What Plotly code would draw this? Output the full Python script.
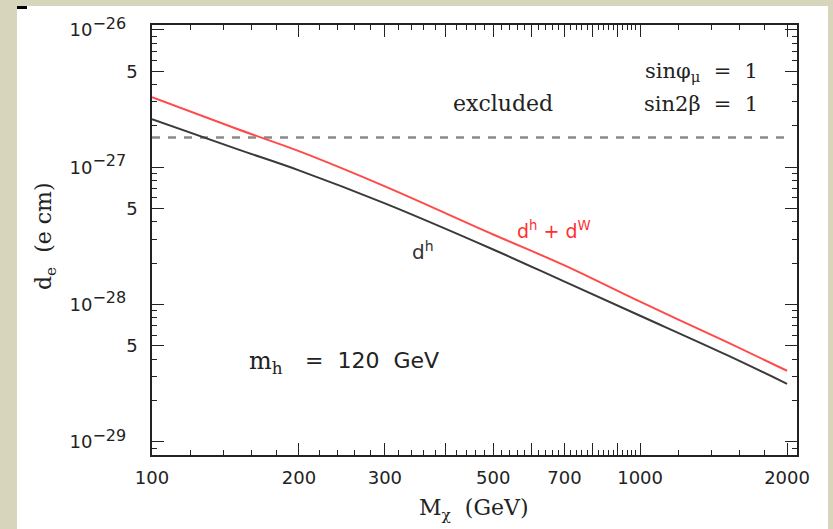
import plotly.graph_objects as go

# ---- data ----
M_chi = [100, 150, 200, 300, 500, 700, 1000, 1500, 2000]          # GeV
d_h = [2.24e-27, 1.35e-27, 9.5e-28, 5.46e-28, 2.52e-28, 1.47e-28, 8.3e-29, 4.32e-29, 2.65e-29]
d_hW = [3.24e-27, 1.89e-27, 1.31e-27, 7.26e-28, 3.24e-28, 1.93e-28, 1.05e-28, 5.37e-29, 3.30e-29]
limit_x = [100, 2000]
limit_y = [1.65e-27, 1.65e-27]

x_tickvals = [100, 200, 300, 400, 500, 600, 700, 800, 900, 1000, 2000]
x_ticktext = ["100", "200", "300", "", "500", "", "700", "", "", "1000", "2000"]
x_minor = [v for v in range(120, 1000, 20) if v % 100 != 0] + [1200, 1400, 1600, 1800]

y_tickvals = [1e-29, 5e-29, 1e-28, 5e-28, 1e-27, 5e-27, 1e-26]
sup = lambda e: "10<sup><span style='font-size:16px'>−%d</span></sup>\u00a0\u00a0" % e
y_ticktext = [sup(29), "5", sup(28), "5", sup(27), "5", sup(26)]
y_minor = [m * 10.0 ** e for e in (-30, -29, -28, -27) for m in (2, 3, 4, 6, 7, 8, 9)]

BEIGE = "#d7d5bb"
SERIF = "DejaVu Serif"
SANS = "DejaVu Sans"

fig = go.Figure()
fig.add_trace(go.Scatter(x=limit_x, y=limit_y, mode="lines",
                         line=dict(color="#8a8a8a", width=2.5, dash="8px,8px"),
                         showlegend=False, hoverinfo="skip"))
fig.add_trace(go.Scatter(x=M_chi, y=d_h, mode="lines",
                         line=dict(color="#3a3a3a", width=2, shape="spline", smoothing=1),
                         showlegend=False))
fig.add_trace(go.Scatter(x=M_chi, y=d_hW, mode="lines",
                         line=dict(color="#ff4a4a", width=2, shape="spline", smoothing=1),
                         showlegend=False))

L, R, T, B = 152, 797, 25, 455
W, H = 833, 529
def px(x):
    return (x - L) / (R - L)
def py(y):
    return (B - y) / (B - T)

def ann(text, x, y, xa="left", ya="middle", size=22, family=SERIF, color="#222", angle=0):
    fig.add_annotation(text=text, x=px(x), y=py(y), xref="paper", yref="paper",
                       xanchor=xa, yanchor=ya, showarrow=False, textangle=angle,
                       font=dict(family=family, size=size, color=color))

ann("sinφ<sub>μ</sub>  =  1", 760, 72, xa="right", size=21)
ann("excluded", 503, 103, xa="center")
ann("sin2β  =  1", 760, 104, xa="right", size=21)
ann("d<sup>h</sup> + d<sup>W</sup>", 515, 230, size=19, family=SANS, color="#ff3030")
ann("d<sup>h</sup>", 410, 251, size=20, family=SANS, color="#333")
ann("m<sub>h</sub>", 247, 362, size=24)
ann("=  120  GeV", 303, 360, size=22, family=SANS)
ann("M<sub>χ</sub>  (GeV)", 474, 509, xa="center", size=22)
ann("d<sub>e</sub>  (e cm)", 45, 236, xa="center", size=22, angle=-90)

# white panel and small dark mark
fig.add_shape(type="rect", xref="paper", yref="paper", layer="below",
              x0=px(17), x1=px(828), y0=py(540), y1=py(6),
              fillcolor="white", line=dict(width=0))
fig.add_shape(type="rect", xref="paper", yref="paper",
              x0=px(17), x1=px(27), y0=py(9), y1=py(6),
              fillcolor="black", line=dict(width=0))

axis_common = dict(showline=True, linecolor="#222", linewidth=1.5, mirror="ticks",
                   ticks="inside", tickcolor="#222", tickwidth=1.2, ticklen=12,
                   showgrid=False, zeroline=False,
                   tickfont=dict(family=SANS, size=18, color="#222"))

fig.update_xaxes(type="log", range=[2, 3.3214], tickmode="array",
                 tickvals=x_tickvals, ticktext=x_ticktext, ticklabelstandoff=6,
                 minor=dict(tickmode="array", tickvals=x_minor, ticks="inside",
                            ticklen=5, tickcolor="#222", tickwidth=1),
                 **axis_common)
fig.update_yaxes(type="log", range=[-29.095, -25.964], tickmode="array",
                 tickvals=y_tickvals, ticktext=y_ticktext, ticklabelstandoff=9,
                 minor=dict(tickmode="array", tickvals=y_minor, ticks="inside",
                            ticklen=5, tickcolor="#222", tickwidth=1),
                 **axis_common)

fig.update_layout(width=W, height=H, autosize=False,
                  margin=dict(l=L, r=W - R, t=T, b=H - B, pad=0),
                  paper_bgcolor=BEIGE, plot_bgcolor="white", showlegend=False)

fig.write_html("out.html")
